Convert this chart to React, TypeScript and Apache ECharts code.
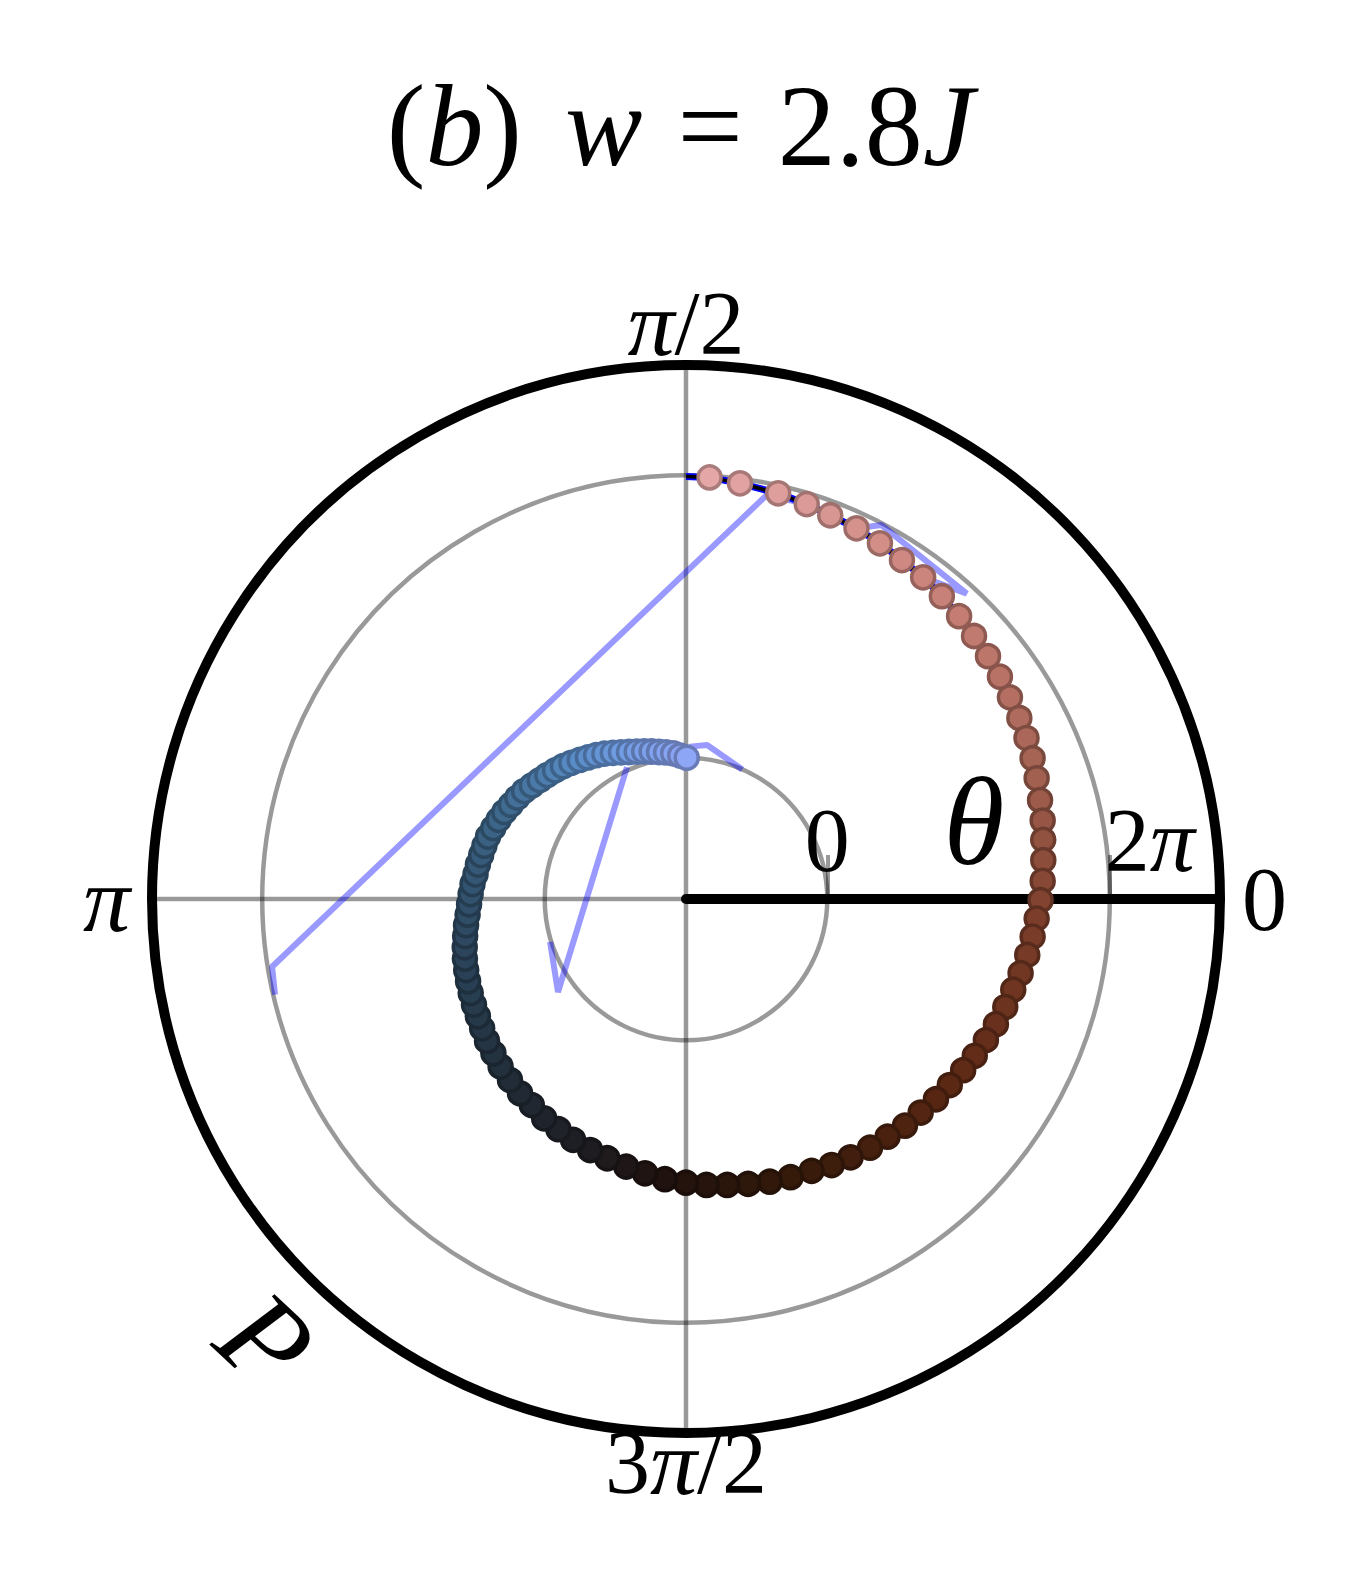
import React, { useEffect, useRef } from 'react';
import * as echarts from 'echarts';

const PI = Math.PI;

// Trajectory: P (angular coordinate, degrees, unwrapped)
const pDeg = [
  86.8, 82.6, 77.2, 73.0, 69.4, 65.3, 61.4, 57.5, 53.6, 49.8,
  46.0, 42.4, 38.8, 35.3, 31.9, 28.5, 25.3, 22.1, 19.0, 15.6,
  12.4, 9.4, 6.2, 2.9, -0.2, -3.2, -6.2, -9.3, -12.5, -15.5,
  -18.7, -22.0, -25.2, -28.5, -31.7, -35.2, -38.7, -42.3, -46.0, -49.7,
  -53.5, -57.5, -61.3, -65.2, -69.4, -73.5, -77.7, -81.8, -85.9, -90.0,
  -94.3, -98.5, -102.6, -106.9, -110.9, -115.1, -119.0, -122.9, -126.8, -130.5,
  -134.2, -137.9, -141.3, -144.5, -147.6, -150.6, -153.5, -156.4, -159.3, -162.1,
  -164.9, -167.7, -170.5, -173.2, -175.9, -178.6, -181.3, -184.0, -186.7, -189.4,
  -192.1, -194.8, -197.5, -200.2, -202.9, -205.6, -208.3, -211.0, -213.7, -216.4,
  -219.1, -221.8, -224.5, -227.2, -229.9, -232.6, -235.3, -238.0, -240.7, -243.4,
  -246.1, -248.8, -251.5, -254.2, -256.9, -259.6, -262.3, -265.0, -267.7, -270.3,
];

// θ (radial coordinate) in units of π
const thetaPi = [
  1.989, 1.967, 1.945, 1.923, 1.902, 1.888, 1.868, 1.845, 1.829, 1.806,
  1.783, 1.761, 1.743, 1.723, 1.701, 1.685, 1.666, 1.648, 1.625, 1.602,
  1.585, 1.563, 1.544, 1.528, 1.510, 1.486, 1.468, 1.448, 1.426, 1.404,
  1.386, 1.366, 1.346, 1.326, 1.306, 1.285, 1.267, 1.246, 1.231, 1.206,
  1.190, 1.168, 1.147, 1.120, 1.104, 1.087, 1.064, 1.045, 1.029, 1.008,
  0.989, 0.963, 0.941, 0.918, 0.902, 0.883, 0.863, 0.849, 0.822, 0.809,
  0.787, 0.769, 0.747, 0.730, 0.709, 0.691, 0.677, 0.663, 0.649, 0.635,
  0.621, 0.603, 0.585, 0.568, 0.550, 0.536, 0.525, 0.515, 0.500, 0.493,
  0.483, 0.476, 0.469, 0.454, 0.440, 0.426, 0.408, 0.393, 0.377, 0.355,
  0.334, 0.316, 0.299, 0.281, 0.260, 0.239, 0.219, 0.200, 0.180, 0.157,
  0.136, 0.116, 0.100, 0.086, 0.072, 0.058, 0.047, 0.035, 0.016, 0.000,
];

// dark trajectory line: extra starting point before the markers
const darkHeadPDeg = [90.0];
const darkHeadThetaPi = [1.99];

// light (translucent) line, first piece: head, then follows the markers from lightJoinIndex, then tail
const lightHeadPDeg = [-166.9, -170.7, 78.7, 73.0, 69.4, 65.3, 62.4, 47.4, 53.6];
const lightHeadThetaPi = [1.987, 1.969, 1.916, 1.923, 1.902, 1.888, 1.987, 1.937, 1.829];
const lightJoinIndex = 10;
const lightTailPDeg = [-271.5, -277.8, -293.5];
const lightTailThetaPi = [0.079, 0.1, 0.0];
// light line, second piece
const lightSeg2PDeg = [-245.9, -144.0, -162.5];
const lightSeg2ThetaPi = [0.023, 0.12, 0.009];

// axis ticks
const angleTickLabels = ['0', '{i|π}/2', '{i|π}', '{b|3}{bi|π}{b|/2}', ''];
const radiusTickValues = [0, 2 * PI];
const radiusTickLabels = ['0', '{s|2}{i|π}'];

const titleText = '{n|(}{i|b}{n|)}{sp| }{i|w}{eq| = }{n|2.8}{i|J}';

const serif = "'Liberation Serif', 'DejaVu Serif', serif";

// colour map along the trajectory (start -> end)
const cmapStops: [number, number[]][] = [
  [0.0, [228, 166, 166]],
  [0.09, [198, 126, 116]],
  [0.165, [162, 96, 80]],
  [0.23, [124, 62, 42]],
  [0.32, [92, 40, 20]],
  [0.4, [54, 26, 10]],
  [0.46, [32, 18, 14]],
  [0.505, [30, 31, 37]],
  [0.58, [36, 53, 68]],
  [0.64, [42, 66, 88]],
  [0.78, [62, 104, 140]],
  [0.87, [88, 140, 198]],
  [0.92, [112, 156, 226]],
  [1.0, [142, 166, 246]],
];

function cmap(t: number): number[] {
  for (let k = 0; k < cmapStops.length - 1; k++) {
    const [t0, c0] = cmapStops[k];
    const [t1, c1] = cmapStops[k + 1];
    if (t <= t1) {
      const f = (t - t0) / (t1 - t0);
      return c0.map((v, j) => Math.round(v + (c1[j] - v) * f));
    }
  }
  return cmapStops[cmapStops.length - 1][1];
}

const toRad = (d: number) => (d * PI) / 180;
const wrap = (a: number) => ((a % (2 * PI)) + 2 * PI) % (2 * PI);
const pt = (thPi: number, pD: number) => [thPi * PI, wrap(toRad(pD))];

export default function App() {
  const ref = useRef<HTMLDivElement>(null);
  useEffect(() => {
    const chart = echarts.init(ref.current as HTMLDivElement, null, { renderer: 'svg' });

    const n = pDeg.length;
    const scatterData = pDeg.map((p, i) => {
      const c = cmap(i / (n - 1));
      const d = c.map((v) => Math.round(v * 0.74));
      return {
        value: pt(thetaPi[i], p),
        itemStyle: {
          color: `rgb(${c[0]},${c[1]},${c[2]})`,
          borderColor: `rgb(${d[0]},${d[1]},${d[2]})`,
          opacity: 1,
        },
      };
    });

    const darkData = [
      ...darkHeadPDeg.map((p, i) => pt(darkHeadThetaPi[i], p)),
      ...pDeg.map((p, i) => pt(thetaPi[i], p)),
    ];

    const light1 = [
      ...lightHeadPDeg.map((p, i) => pt(lightHeadThetaPi[i], p)),
      ...pDeg.slice(lightJoinIndex).map((p, i) => pt(thetaPi[i + lightJoinIndex], p)),
      ...lightTailPDeg.map((p, i) => pt(lightTailThetaPi[i], p)),
    ];
    const light2 = lightSeg2PDeg.map((p, i) => pt(lightSeg2ThetaPi[i], p));

    const gray = 'rgba(0,0,0,0.4)';
    const fs = 90;
    const angleRich = {
      i: { fontFamily: serif, fontStyle: 'italic', fontSize: fs + 4, color: '#000', lineHeight: 40 },
      b: { fontFamily: serif, fontSize: fs, color: '#000', lineHeight: 14 },
      bi: { fontFamily: serif, fontStyle: 'italic', fontSize: fs + 4, color: '#000', lineHeight: 14 },
    };
    const radiusRich = {
      i: { fontFamily: serif, fontStyle: 'italic', fontSize: fs, color: '#000' },
      s: { fontFamily: serif, fontSize: fs, color: '#000', padding: [0, 0, 0, 80] },
    };

    const lightStyle = { color: 'rgba(0,0,255,0.4)', width: 6 };

    chart.setOption({
      animation: false,
      backgroundColor: '#ffffff',
      title: {
        text: titleText,
        left: 'center',
        top: 68,
        padding: [0, 0, 0, 15],
        textStyle: {
          fontFamily: serif,
          fontSize: 116,
          fontWeight: 'normal',
          color: '#000',
          rich: {
            n: { fontFamily: serif, fontSize: 116, color: '#000' },
            i: { fontFamily: serif, fontSize: 116, fontStyle: 'italic', color: '#000' },
            sp: { fontFamily: serif, fontSize: 116, color: '#000', padding: [0, 14, 0, 0] },
            eq: { fontFamily: serif, fontSize: 116, color: '#000', padding: [0, 6, 0, 6] },
          },
        },
      },
      polar: { center: [686, 899], radius: 534 },
      angleAxis: {
        type: 'value',
        min: 0,
        max: 2 * PI,
        interval: PI / 2,
        startAngle: 0,
        clockwise: false,
        axisLine: { show: true, lineStyle: { color: '#000', width: 10 } },
        axisTick: { show: false },
        splitLine: { show: true, lineStyle: { color: gray, width: 4.5 } },
        axisLabel: {
          margin: 22,
          fontFamily: serif,
          fontSize: fs,
          lineHeight: 40,
          color: '#000',
          formatter: (v: number) => angleTickLabels[Math.round(v / (PI / 2))] ?? '',
          rich: angleRich,
        },
      },
      radiusAxis: {
        type: 'value',
        min: -PI,
        max: 2.78 * PI,
        interval: PI,
        axisLine: { show: true, lineStyle: { color: '#000', width: 10 } },
        axisTick: {
          show: true,
          inside: true,
          length: 44,
          customValues: radiusTickValues,
          lineStyle: { color: gray, width: 4 },
        },
        axisLabel: {
          customValues: radiusTickValues,
          margin: 14,
          fontFamily: serif,
          fontSize: fs,
          color: '#000',
          formatter: (v: number) => {
            const k = radiusTickValues.findIndex((x) => Math.abs(x - v) < 1e-6);
            return k >= 0 ? radiusTickLabels[k] : '';
          },
          rich: radiusRich,
        },
        splitLine: { show: true, lineStyle: { color: gray, width: 4.5 } },
      },
      series: [
        {
          type: 'line',
          coordinateSystem: 'polar',
          data: light1,
          symbol: 'none',
          lineStyle: lightStyle,
          z: 1,
          silent: true,
        },
        {
          type: 'line',
          coordinateSystem: 'polar',
          data: light2,
          symbol: 'none',
          lineStyle: lightStyle,
          z: 1,
          silent: true,
        },
        {
          type: 'line',
          coordinateSystem: 'polar',
          data: darkData,
          symbol: 'none',
          lineStyle: { color: '#0000ff', width: 7 },
          z: 2,
          silent: true,
        },
        {
          type: 'line',
          coordinateSystem: 'polar',
          data: darkData,
          symbol: 'none',
          lineStyle: { color: '#000000', width: 3.5 },
          z: 2,
          silent: true,
        },
        {
          type: 'scatter',
          coordinateSystem: 'polar',
          data: scatterData,
          symbol: 'circle',
          symbolSize: 23,
          itemStyle: { borderWidth: 3.5, opacity: 1 },
          z: 3,
          silent: true,
        },
      ],
      graphic: [
        {
          type: 'text',
          x: 974,
          y: 822,
          style: {
            text: 'θ',
            fontFamily: serif,
            fontStyle: 'italic',
            fontSize: 124,
            fill: '#000',
            textAlign: 'center',
            textVerticalAlign: 'middle',
          },
        },
        {
          type: 'text',
          x: 266,
          y: 1340,
          rotation: -0.75,
          style: {
            text: 'P',
            fontFamily: serif,
            fontStyle: 'italic',
            fontSize: 124,
            fill: '#000',
            textAlign: 'center',
            textVerticalAlign: 'middle',
          },
        },
      ],
    });
    return () => chart.dispose();
  }, []);
  return (
    <div
      ref={ref}
      style={{ position: 'absolute', left: 0, top: 0, width: 1361, height: 1591, background: '#fff' }}
    />
  );
}
